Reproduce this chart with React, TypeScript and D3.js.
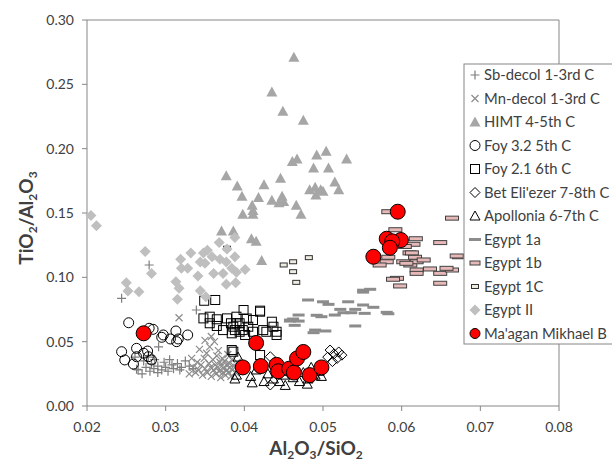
import React from 'react'
import { scaleLinear } from 'd3'

// [Al2O3/SiO2, TiO2/Al2O3] pairs
const sbDecol = [
  [0.0279, 0.1096], [0.0244, 0.0837], [0.0339, 0.0746], [0.0291, 0.046], [0.0261, 0.038],
  [0.0263, 0.0285], [0.0265, 0.028], [0.027, 0.025], [0.0275, 0.03], [0.028, 0.027],
  [0.0282, 0.033], [0.0285, 0.029], [0.029, 0.026], [0.029, 0.031], [0.0295, 0.028],
  [0.0298, 0.034], [0.03, 0.03], [0.0303, 0.027], [0.0308, 0.032], [0.031, 0.029],
  [0.0315, 0.033], [0.0318, 0.028], [0.032, 0.03], [0.0325, 0.035], [0.033, 0.031],
  [0.0272, 0.035], [0.0278, 0.038], [0.0335, 0.029], [0.0286, 0.036], [0.0305, 0.036],
]

const mnDecol = [
  [0.0335, 0.03], [0.0338, 0.026], [0.034, 0.034], [0.0342, 0.028], [0.0345, 0.032],
  [0.0347, 0.024], [0.0349, 0.037], [0.035, 0.029], [0.0352, 0.041], [0.0353, 0.026],
  [0.0355, 0.033], [0.0356, 0.046], [0.0357, 0.03], [0.0358, 0.023], [0.036, 0.036],
  [0.0361, 0.028], [0.0362, 0.05], [0.0363, 0.032], [0.0364, 0.025], [0.0365, 0.039],
  [0.0366, 0.03], [0.0367, 0.043], [0.0368, 0.027], [0.0369, 0.034], [0.037, 0.022],
  [0.0371, 0.031], [0.0372, 0.037], [0.0373, 0.026], [0.0374, 0.029], [0.0375, 0.035],
  [0.0376, 0.024], [0.0377, 0.032], [0.0378, 0.028], [0.0379, 0.04], [0.038, 0.026],
  [0.0381, 0.033], [0.0382, 0.03], [0.0383, 0.023], [0.0384, 0.036], [0.0385, 0.028],
  [0.0387, 0.031], [0.0389, 0.026], [0.0391, 0.034], [0.0393, 0.029], [0.033, 0.025],
  [0.0333, 0.037], [0.0317, 0.0686], [0.035, 0.051], [0.0343, 0.044], [0.0358, 0.054],
]

const himt = [
  [0.0463, 0.271], [0.0435, 0.244], [0.0449, 0.229], [0.0475, 0.222], [0.0504, 0.198],
  [0.0492, 0.195], [0.053, 0.192], [0.0467, 0.192], [0.0461, 0.19], [0.0488, 0.185],
  [0.0507, 0.185], [0.0377, 0.179], [0.0446, 0.177], [0.0515, 0.174], [0.0391, 0.171],
  [0.0425, 0.172], [0.0483, 0.168], [0.049, 0.17], [0.0497, 0.168], [0.05, 0.167],
  [0.052, 0.168], [0.0491, 0.164], [0.0397, 0.163], [0.0418, 0.162], [0.0435, 0.16],
  [0.0448, 0.163], [0.045, 0.159], [0.0444, 0.158], [0.0466, 0.156], [0.041, 0.156],
  [0.0411, 0.152], [0.0411, 0.149], [0.0398, 0.149], [0.0472, 0.149], [0.0371, 0.136],
  [0.0386, 0.136], [0.0409, 0.13], [0.0415, 0.128], [0.0422, 0.113],
]

const foy32 = [
  [0.0253, 0.0647], [0.0279, 0.0604], [0.0284, 0.0596], [0.0297, 0.0552], [0.0313, 0.0583],
  [0.0328, 0.0552], [0.0295, 0.0534], [0.0306, 0.0521], [0.0316, 0.0521], [0.0314, 0.05],
  [0.0244, 0.0422], [0.0263, 0.0448], [0.0277, 0.0427], [0.0248, 0.0358], [0.0259, 0.0326],
  [0.0278, 0.0383], [0.0272, 0.041], [0.0263, 0.0383], [0.0282, 0.0358],
]

const foy21 = [
  [0.0349, 0.0818], [0.0363, 0.0824], [0.0348, 0.0681], [0.0356, 0.0643], [0.0365, 0.0674],
  [0.0378, 0.0681], [0.0399, 0.0746], [0.042, 0.0741], [0.039, 0.0694], [0.0411, 0.0668],
  [0.0435, 0.0655], [0.0437, 0.0616], [0.0441, 0.0552], [0.0424, 0.059], [0.0405, 0.0616],
  [0.0386, 0.0616], [0.0384, 0.0565], [0.0373, 0.059], [0.0365, 0.0622], [0.0356, 0.0694],
  [0.0394, 0.0643], [0.0403, 0.068], [0.0388, 0.059], [0.0394, 0.0577], [0.0401, 0.0552],
  [0.0386, 0.0422], [0.042, 0.0396], [0.0383, 0.0643], [0.042, 0.0733], [0.0441, 0.0577],
  [0.0384, 0.0435], [0.0428, 0.0577], [0.0411, 0.0577], [0.0398, 0.059], [0.039, 0.0643],
]

const betElIezer = [
  [0.0433, 0.0383], [0.0433, 0.0163], [0.0509, 0.0435], [0.0514, 0.0405], [0.052, 0.042],
  [0.0518, 0.037], [0.0524, 0.0395], [0.0512, 0.0345], [0.0506, 0.038],
]

const apollonia = [
  [0.0392, 0.038], [0.039, 0.024], [0.0388, 0.021], [0.0408, 0.023], [0.0415, 0.028],
  [0.0425, 0.019], [0.043, 0.025], [0.0437, 0.021], [0.0445, 0.019], [0.045, 0.024],
  [0.0455, 0.027], [0.0462, 0.022], [0.047, 0.019], [0.0475, 0.026], [0.0481, 0.021],
  [0.0485, 0.03], [0.049, 0.024], [0.0495, 0.027], [0.0498, 0.023], [0.044, 0.03],
  [0.042, 0.033], [0.046, 0.031], [0.041, 0.018], [0.0452, 0.016], [0.048, 0.017],
]

const egypt1a = [
  [0.0481, 0.0824], [0.05, 0.081], [0.0507, 0.079], [0.0532, 0.081], [0.0551, 0.09],
  [0.056, 0.0907], [0.0551, 0.0785], [0.0564, 0.0767], [0.0541, 0.0751], [0.0522, 0.0751],
  [0.0526, 0.0725], [0.0536, 0.0725], [0.0553, 0.072], [0.0581, 0.0728], [0.0583, 0.0717],
  [0.0515, 0.0707], [0.0492, 0.0705], [0.0498, 0.0694], [0.0469, 0.0707], [0.0462, 0.0676],
  [0.0458, 0.066], [0.0469, 0.066], [0.0464, 0.0627], [0.049, 0.059], [0.0488, 0.057],
  [0.0503, 0.0583], [0.0541, 0.0622], [0.0551, 0.0885], [0.0458, 0.0668],
]

const egypt1b = [
  [0.0583, 0.151], [0.0664, 0.146], [0.0592, 0.137], [0.0618, 0.13], [0.0615, 0.1257],
  [0.0649, 0.127], [0.0604, 0.124], [0.061, 0.119], [0.0583, 0.1156], [0.0617, 0.1156],
  [0.0673, 0.116], [0.0581, 0.1121], [0.0572, 0.1096], [0.0613, 0.119], [0.0602, 0.1121],
  [0.0611, 0.1096], [0.0619, 0.1121], [0.0628, 0.1135], [0.0619, 0.1057], [0.0619, 0.1031],
  [0.0636, 0.1065], [0.0649, 0.1031], [0.0664, 0.1057], [0.0649, 0.0954], [0.0594, 0.0992],
  [0.0589, 0.0985], [0.0598, 0.0933], [0.0606, 0.1109], [0.067, 0.1166], [0.0657, 0.107],
]

const egypt1c = [
  [0.0378, 0.1226], [0.045, 0.1096], [0.0462, 0.1121], [0.0462, 0.1044], [0.0466, 0.0961],
  [0.0482, 0.1153],
]

const egypt2 = [
  [0.0205, 0.148], [0.0212, 0.14], [0.0274, 0.12], [0.0282, 0.103], [0.025, 0.0958],
  [0.0252, 0.0894], [0.0266, 0.0888], [0.0319, 0.114], [0.032, 0.107], [0.0332, 0.119],
  [0.0344, 0.112], [0.035, 0.111], [0.0353, 0.121], [0.0359, 0.116], [0.0348, 0.119],
  [0.0369, 0.114], [0.0377, 0.112], [0.0384, 0.107], [0.0388, 0.116], [0.0401, 0.106],
  [0.039, 0.104], [0.0373, 0.103], [0.0361, 0.103], [0.0341, 0.101], [0.0328, 0.107],
  [0.0313, 0.0966], [0.0317, 0.0915], [0.0315, 0.0829], [0.0344, 0.0896], [0.0351, 0.0849],
  [0.0377, 0.0946], [0.0389, 0.0958], [0.0368, 0.127], [0.0388, 0.131], [0.0378, 0.122],
]

const maaganMikhael = [
  [0.0595, 0.151], [0.0581, 0.13], [0.0599, 0.129], [0.0588, 0.128], [0.0585, 0.123],
  [0.0564, 0.116], [0.0272, 0.0565], [0.0415, 0.049], [0.0398, 0.03], [0.0421, 0.031],
  [0.0441, 0.032], [0.0443, 0.027], [0.0457, 0.029], [0.0463, 0.026], [0.0467, 0.037],
  [0.0475, 0.042], [0.0483, 0.024], [0.0498, 0.03],
]

const xTicks = [0.02, 0.03, 0.04, 0.05, 0.06, 0.07, 0.08]
const yTicks = [0, 0.05, 0.1, 0.15, 0.2, 0.25, 0.3]

const series = [
  { name: 'Sb-decol 1-3rd C', data: sbDecol, marker: 'plus' },
  { name: 'Mn-decol 1-3rd C', data: mnDecol, marker: 'times' },
  { name: 'HIMT 4-5th C', data: himt, marker: 'grayTriangle' },
  { name: 'Foy 3.2 5th C', data: foy32, marker: 'circle' },
  { name: 'Foy 2.1 6th C', data: foy21, marker: 'square' },
  { name: "Bet Eli'ezer 7-8th C", data: betElIezer, marker: 'diamond' },
  { name: 'Apollonia 6-7th C', data: apollonia, marker: 'triangle' },
  { name: 'Egypt 1a', data: egypt1a, marker: 'dash1a' },
  { name: 'Egypt 1b', data: egypt1b, marker: 'dash1b' },
  { name: 'Egypt 1C', data: egypt1c, marker: 'dash1c' },
  { name: 'Egypt II', data: egypt2, marker: 'grayDiamond' },
  { name: "Ma'agan Mikhael B", data: maaganMikhael, marker: 'red' },
]

const FONT = 'Lato, "Open Sans", sans-serif'
const AXIS_GRAY = '#868686'

const Marker = ({ type, x, y, legend = false }: { type: string; x: number; y: number; legend?: boolean }) => {
  switch (type) {
    case 'plus':
      return <path d={`M${x - 4.5},${y}h9M${x},${y - 4.5}v9`} stroke="#7f7f7f" strokeWidth={1.2} />
    case 'times':
      return <path d={`M${x - 3.5},${y - 3.5}l7,7M${x - 3.5},${y + 3.5}l7,-7`} stroke="#8c8c8c" strokeWidth={1.2} />
    case 'grayTriangle':
      return <path d={`M${x},${y - 5.5}L${x + 5.5},${y + 4.5}L${x - 5.5},${y + 4.5}Z`} fill="#a6a6a6" />
    case 'triangle':
      return <path d={`M${x},${y - 5}L${x + 5},${y + 4}L${x - 5},${y + 4}Z`} fill="none" stroke="#000" strokeWidth={1} />
    case 'circle':
      return <circle cx={x} cy={y} r={5} fill="none" stroke="#000" strokeWidth={1} />
    case 'square':
      return <rect x={x - 4.5} y={y - 4.5} width={9} height={9} fill="none" stroke="#000" strokeWidth={1} />
    case 'diamond':
      return <path d={`M${x},${y - 5}L${x + 5},${y}L${x},${y + 5}L${x - 5},${y}Z`} fill="none" stroke="#000" strokeWidth={1} />
    case 'grayDiamond':
      return <path d={`M${x},${y - 5.5}L${x + 5.5},${y}L${x},${y + 5.5}L${x - 5.5},${y}Z`} fill="#bfbfbf" />
    case 'dash1a':
      return <rect x={x - 6} y={y - 1.5} width={12} height={3} fill="#8c8c8c" />
    case 'dash1b':
      return <rect x={x - (legend ? 5 : 6.5)} y={y - 2} width={legend ? 10 : 13} height={4} fill="#e6b9b8" stroke="#404040" strokeWidth={1} />
    case 'dash1c':
      return <rect x={x - 3.5} y={y - 2} width={7} height={4} fill="#eeece1" stroke="#303030" strokeWidth={1} />
    case 'red':
      return <circle cx={x} cy={y} r={legend ? 5 : 7.5} fill="#ff0000" stroke="#000" strokeWidth={1} />
    default:
      return null
  }
}

const Chart = () => {
  const width = 612
  const height = 466
  const plot = { left: 87, right: 559, top: 20, bottom: 406 }

  const xScale = scaleLinear().domain([0.02, 0.08]).range([plot.left, plot.right])
  const yScale = scaleLinear().domain([0, 0.3]).range([plot.bottom, plot.top])

  const legendX = 464
  const legendY = 64
  const legendStep = 23.5

  return (
    <svg width={width} height={height} style={{ position: 'absolute', left: 0, top: 0, background: '#fff' }} fontFamily={FONT}>
      {/* plot frame: axes + top/right border */}
      <path
        d={`M${plot.left},${plot.top}H${plot.right}V${plot.bottom}H${plot.left}Z`}
        fill="none"
        stroke={AXIS_GRAY}
        strokeWidth={1}
      />
      {yTicks.map(t => (
        <g key={'y' + t}>
          <line x1={plot.left - 5} x2={plot.left} y1={yScale(t)} y2={yScale(t)} stroke={AXIS_GRAY} />
          <text x={plot.left - 13} y={yScale(t)} dy="0.35em" textAnchor="end" fontSize={14} fill="#404040">
            {t.toFixed(2)}
          </text>
        </g>
      ))}
      {xTicks.map(t => (
        <g key={'x' + t}>
          <line x1={xScale(t)} x2={xScale(t)} y1={plot.bottom} y2={plot.bottom + 5} stroke={AXIS_GRAY} />
          <text x={xScale(t)} y={plot.bottom + 26} textAnchor="middle" fontSize={14} fill="#404040">
            {t.toFixed(2)}
          </text>
        </g>
      ))}

      {/* axis titles */}
      <text x={316} y={455} textAnchor="middle" fontSize={19} fontWeight="bold" fill="#404040">
        Al<tspan fontSize={12} dy={4}>2</tspan><tspan dy={-4}>O</tspan><tspan fontSize={12} dy={4}>3</tspan>
        <tspan dy={-4}>/SiO</tspan><tspan fontSize={12} dy={4}>2</tspan>
      </text>
      <text transform="translate(33,218) rotate(-90)" textAnchor="middle" fontSize={19} fontWeight="bold" fill="#404040">
        TiO<tspan fontSize={12} dy={4}>2</tspan><tspan dy={-4}>/Al</tspan><tspan fontSize={12} dy={4}>2</tspan>
        <tspan dy={-4}>O</tspan><tspan fontSize={12} dy={4}>3</tspan>
      </text>

      {/* points, in Excel series order */}
      {series.map(s => (
        <g key={s.name}>
          {s.data.map((d, i) => (
            <Marker key={i} type={s.marker} x={xScale(d[0])} y={yScale(d[1])} />
          ))}
        </g>
      ))}

      {/* legend, running to the right edge like the original */}
      <rect x={legendX} y={legendY} width={170} height={280} fill="#fff" stroke={AXIS_GRAY} strokeWidth={1} />
      {series.map((s, i) => {
        const cy = legendY + 11 + i * legendStep
        return (
          <g key={'lg' + s.name}>
            <Marker type={s.marker} x={legendX + 11} y={cy} legend />
            <text x={legendX + 20} y={cy} dy="0.35em" fontSize={14.8} fill="#404040">
              {s.name}
            </text>
          </g>
        )
      })}
    </svg>
  )
}

export default function App() {
  return <Chart />
}
